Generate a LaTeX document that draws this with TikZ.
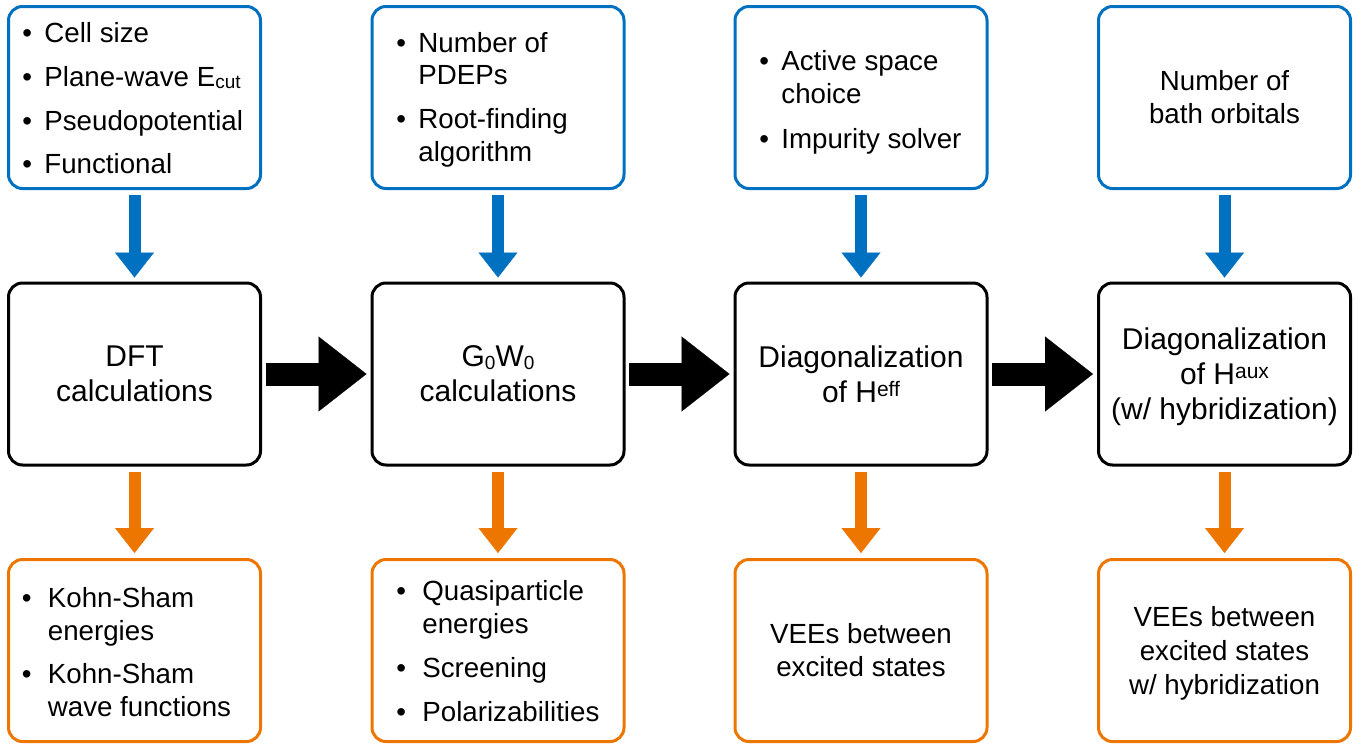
\documentclass[tikz,border=0pt]{standalone}
\usepackage{fontspec}
\setmainfont{Liberation Sans}
\usetikzlibrary{arrows.meta,calc}

\definecolor{inblue}{RGB}{0,112,192}
\definecolor{outorange}{RGB}{237,118,0}

% text sizes: side boxes and workflow steps
\newcommand{\sidefont}{\fontsize{13.85pt}{16.5pt}\selectfont}
\newcommand{\stepfont}{\fontsize{15pt}{17.5pt}\selectfont}
% small raised / lowered text
\newcommand{\upidx}[1]{\raisebox{0.2em}{\fontsize{10.5pt}{10.5pt}\selectfont #1}}
\newcommand{\lowidx}[1]{\raisebox{-0.1em}{\fontsize{9.5pt}{9.5pt}\selectfont #1}}
% bullet cells for the lists
\newcommand{\tbul}{\makebox[11pt][l]{•}}
\newcommand{\bbul}{\makebox[13pt][l]{•}}

\begin{document}
\begin{tikzpicture}[x=0.5pt, y=-0.5pt,
  box/.style={draw, line width=1.5pt, rounded corners=7pt,
    minimum width=126pt, minimum height=91pt, inner sep=0pt, align=center},
  inbox/.style={box, draw=inblue, font=\sidefont},
  stepbox/.style={box, draw=black, font=\stepfont},
  outbox/.style={box, draw=outorange, font=\sidefont},
  listtext/.style={anchor=base west, inner sep=0pt, font=\sidefont},
  feed/.style={line width=6pt,
    -{Triangle[width=19.5pt, length=12.5pt, line width=0.1pt]}},
  flow/.style={line width=11.5pt, black,
    -{Triangle[width=37.5pt, length=24pt, line width=0.1pt]}}]

\useasboundingbox (0,0) rectangle (1366,744);

% input parameters (top row)
\node[inbox] (in1) at (134.5,97.5) {};
\node[inbox] (in2) at (498,97.5) {};
\node[inbox] (in3) at (861,97.5) {};
\node[inbox] (in4) at (1224.5,97.5) {Number of\\bath orbitals};

\node[listtext] (in1-list) at (22,42) {\begin{tabular}[t]{@{}l@{}l@{}}
  \tbul & Cell size\\[5.5pt]
  \tbul & Plane-wave E\lowidx{cut}\\[5.5pt]
  \tbul & Pseudopotential\\[5.5pt]
  \tbul & Functional
\end{tabular}};
\node[listtext] (in2-list) at (396,52) {\begin{tabular}[t]{@{}l@{}l@{}}
  \tbul & Number of\\
        & PDEPs\\[5.5pt]
  \tbul & Root-finding\\
        & algorithm
\end{tabular}};
\node[listtext] (in3-list) at (759,70) {\begin{tabular}[t]{@{}l@{}l@{}}
  \tbul & Active space\\
        & choice\\[6pt]
  \tbul & Impurity solver
\end{tabular}};

% workflow steps (middle row)
\node[stepbox] (st1) at (134.5,374) {DFT\\calculations};
\node[stepbox] (st2) at (498,374) {G\lowidx{0}W\lowidx{0}\\calculations};
\node[stepbox] (st3) at (861,374) {Diagonalization\\of H\upidx{eff}};
\node[stepbox, text depth=0pt] (st4) at (1224.5,374)
  {Diagonalization\\of H\upidx{aux}\\(w/ hybridization)};

% outputs (bottom row)
\node[outbox] (out1) at (134.5,650.5) {};
\node[outbox] (out2) at (498,650.5) {};
\node[outbox] (out3) at (861,650.5) {VEEs between\\excited states};
\node[outbox, text depth=0pt, font=\fontsize{13.85pt}{17pt}\selectfont]
  (out4) at (1224.5,650.5) {VEEs between\\excited states\\w/ hybridization};

\node[listtext] (out1-list) at (21.5,607) {\begin{tabular}[t]{@{}l@{}l@{}}
  \bbul & Kohn-Sham\\
        & energies\\[5pt]
  \bbul & Kohn-Sham\\
        & wave functions
\end{tabular}};
\node[listtext] (out2-list) at (396,600) {\begin{tabular}[t]{@{}l@{}l@{}}
  \bbul & Quasiparticle\\
        & energies\\[5.5pt]
  \bbul & Screening\\[5.5pt]
  \bbul & Polarizabilities
\end{tabular}};

% parameters feed each step, each step gives its outputs
\foreach \i in {1,...,4}{
  \draw[feed, inblue] ($(in\i.south)+(0,5)$) -- ($(st\i.north)+(0,-4)$);
  \draw[feed, outorange] ($(st\i.south)+(0,5)$) -- ($(out\i.north)+(0,-5)$);
}

% step-to-step flow
\draw[flow] ($(st1.east)+(3.5,0)$) -- ($(st2.west)+(-4,0)$);
\draw[flow] ($(st2.east)+(3.5,0)$) -- ($(st3.west)+(-4,0)$);
\draw[flow] ($(st3.east)+(3.5,0)$) -- ($(st4.west)+(-4,0)$);

\end{tikzpicture}
\end{document}
